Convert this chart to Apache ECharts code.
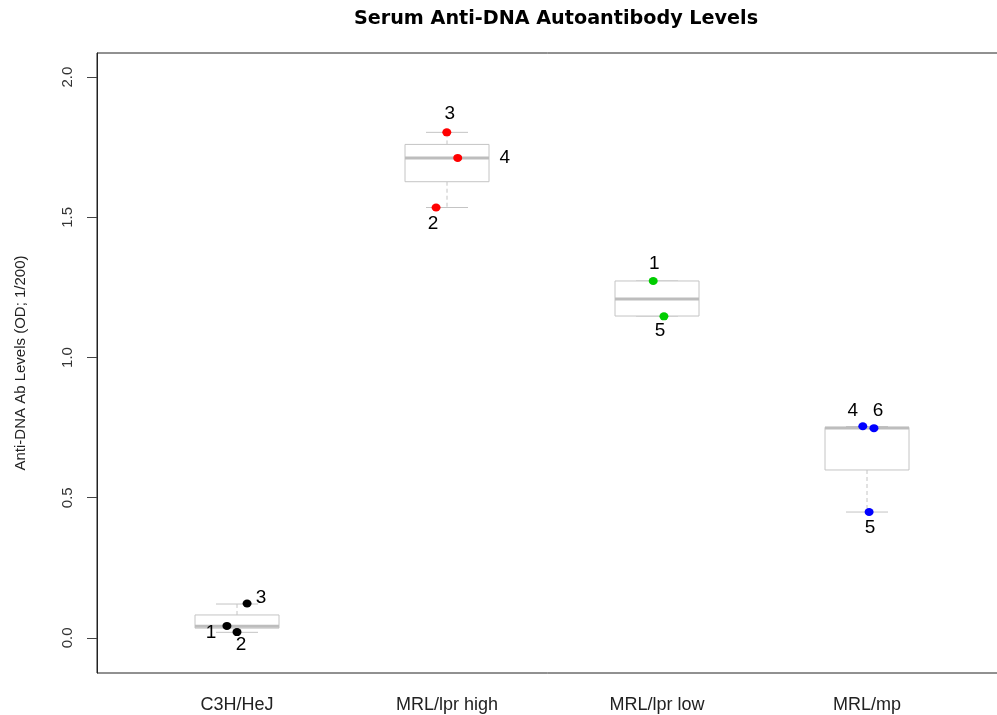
<!DOCTYPE html>
<html>
<head>
<meta charset="utf-8">
<script src="https://cdn.jsdelivr.net/npm/echarts@6/dist/echarts.min.js"></script>
<style>html,body{margin:0;padding:0;background:#fff}#c{width:997px;height:715px}</style>
</head>
<body>
<div id="c"></div>
<script>
// ---- data ----
const groupNames = ['C3H/HeJ', 'MRL/lpr high', 'MRL/lpr low', 'MRL/mp'];
const boxLow  = [0.020, 1.535, 1.148, 0.449];
const boxQ1   = [0.035, 1.627, 1.148, 0.599];
const boxMed  = [0.042, 1.712, 1.209, 0.749];
const boxQ3   = [0.082, 1.760, 1.273, 0.751];
const boxHigh = [0.121, 1.803, 1.273, 0.754];

const c3hIds = ['3', '1', '2'];
const c3hX   = [1.048, 0.952, 1.000];
const c3hY   = [0.123, 0.043, 0.021];

const highIds = ['3', '4', '2'];
const highX   = [1.999, 2.051, 1.948];
const highY   = [1.803, 1.712, 1.535];

const lowIds = ['1', '5'];
const lowX   = [2.982, 3.033];
const lowY   = [1.273, 1.147];

const mpIds = ['4', '6', '5'];
const mpX   = [3.980, 4.033, 4.010];
const mpY   = [0.755, 0.748, 0.449];

const yTicks = [0, 0.5, 1.0, 1.5, 2.0];
const xTicks = [1, 2, 3, 4];

// ---- style ----
const FONT = 'Liberation Sans, Arial, sans-serif';
const labelOffsets = {
  c3h:  [[14, -6], [-16, 7], [4, 13]],
  high: [[3, -19], [47, 0], [-3, 16]],
  low:  [[1, -17], [-4, 14]],
  mp:   [[-10, -15], [4, -17], [1, 16]]
};

function pointSeries(ids, xs, ys, color, offs) {
  return {
    type: 'scatter',
    symbol: 'circle',
    symbolSize: [9, 8],
    itemStyle: { color: color, opacity: 1 },
    z: 5,
    data: ids.map((id, i) => ({
      value: [xs[i], ys[i], id],
      label: {
        show: true,
        position: 'inside',
        offset: offs[i],
        formatter: id,
        color: '#000',
        fontSize: 19,
        fontFamily: FONT
      }
    }))
  };
}

const boxData = groupNames.map((n, i) => [i + 1, boxLow[i], boxQ1[i], boxMed[i], boxQ3[i], boxHigh[i]]);

const chart = echarts.init(document.getElementById('c'), null, { renderer: 'canvas' });
chart.setOption({
  animation: false,
  backgroundColor: '#fff',
  title: {
    text: 'Serum Anti-DNA Autoantibody Levels',
    left: 551,
    textAlign: 'center',
    top: 5,
    textStyle: { fontFamily: 'DejaVu Sans, sans-serif', fontWeight: 'bold', fontSize: 19.2, color: '#000' }
  },
  grid: {
    left: 97, top: 53, bottom: 42, right: -10,
    outerBoundsMode: 'none',
    containLabel: false,
    show: true, borderColor: '#222', borderWidth: 1, backgroundColor: 'transparent'
  },
  xAxis: {
    type: 'value',
    min: 1 / 3, max: 14 / 3,
    splitLine: { show: false },
    axisLine: { show: false },
    axisTick: { show: false },
    axisLabel: {
      customValues: xTicks,
      formatter: v => groupNames[Math.round(v) - 1] || '',
      margin: 23,
      fontSize: 18,
      color: '#222',
      fontFamily: FONT
    }
  },
  yAxis: {
    type: 'value',
    min: -0.125, max: 2.086,
    name: 'Anti-DNA Ab Levels (OD; 1/200)',
    nameLocation: 'middle',
    nameGap: 69,
    nameTextStyle: { fontSize: 15, color: '#222', fontFamily: FONT },
    splitLine: { show: false },
    axisLine: { show: true, lineStyle: { color: '#222' } },
    axisTick: { show: true, customValues: yTicks, length: 10, lineStyle: { color: '#444' } },
    axisLabel: {
      customValues: yTicks,
      formatter: v => v.toFixed(1),
      rotate: 90,
      margin: 22,
      fontSize: 15,
      color: '#333',
      fontFamily: FONT
    }
  },
  series: [
    {
      type: 'custom',
      data: boxData,
      encode: { x: 0, y: [1, 2, 3, 4, 5] },
      z: 2,
      renderItem: function (params, api) {
        const x = api.value(0);
        const lo = api.coord([x, api.value(1)]);
        const q1 = api.coord([x, api.value(2)]);
        const md = api.coord([x, api.value(3)]);
        const q3 = api.coord([x, api.value(4)]);
        const hi = api.coord([x, api.value(5)]);
        const bw = api.size([0.4, 0])[0];
        const cw = api.size([0.2, 0])[0];
        const cx = q1[0];
        const gray = '#c4c4c4';
        const children = [
          { type: 'line', shape: { x1: cx, y1: q3[1], x2: cx, y2: hi[1] }, style: { stroke: gray, lineWidth: 1, lineDash: [4, 3] } },
          { type: 'line', shape: { x1: cx, y1: q1[1], x2: cx, y2: lo[1] }, style: { stroke: gray, lineWidth: 1, lineDash: [4, 3] } },
          { type: 'line', shape: { x1: cx - cw / 2, y1: hi[1], x2: cx + cw / 2, y2: hi[1] }, style: { stroke: gray, lineWidth: 1 } },
          { type: 'line', shape: { x1: cx - cw / 2, y1: lo[1], x2: cx + cw / 2, y2: lo[1] }, style: { stroke: gray, lineWidth: 1 } },
          { type: 'rect', shape: { x: cx - bw / 2, y: q3[1], width: bw, height: q1[1] - q3[1] }, style: { fill: '#fff', stroke: gray, lineWidth: 1 } },
          { type: 'line', shape: { x1: cx - bw / 2, y1: md[1], x2: cx + bw / 2, y2: md[1] }, style: { stroke: '#bdbdbd', lineWidth: 3 } }
        ];
        return { type: 'group', children: children };
      }
    },
    pointSeries(c3hIds, c3hX, c3hY, '#000000', labelOffsets.c3h),
    pointSeries(highIds, highX, highY, '#ff0000', labelOffsets.high),
    pointSeries(lowIds, lowX, lowY, '#00cd00', labelOffsets.low),
    pointSeries(mpIds, mpX, mpY, '#0000ff', labelOffsets.mp)
  ]
});
</script>
</body>
</html>
